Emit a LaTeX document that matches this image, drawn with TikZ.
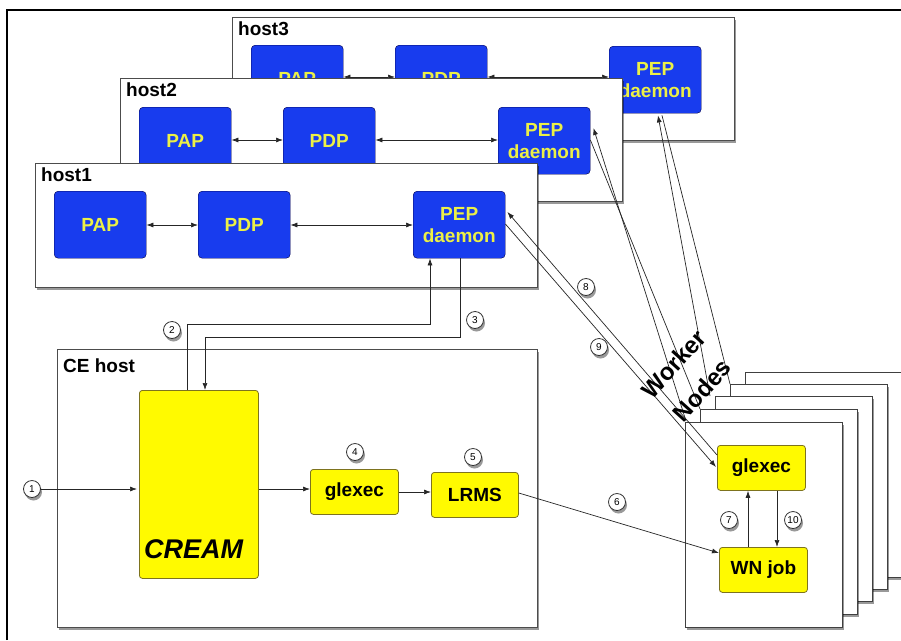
\documentclass[tikz,border=0pt]{standalone}
\usepackage{fontspec}
\setmainfont{Liberation Sans}
\usetikzlibrary{arrows.meta,shadows,calc}
\definecolor{pepblue}{RGB}{24,60,238}
\definecolor{pepyellow}{RGB}{236,240,70}
\definecolor{ybox}{RGB}{255,250,0}
\definecolor{yborder}{RGB}{125,115,30}
\begin{document}
\begin{tikzpicture}[x=1pt,y=-1pt,
  shad/.style={drop shadow={shadow xshift=1.5pt,shadow yshift=-3pt,fill=black,opacity=0.4}},
  hostbox/.style={draw=black!70,fill=white,line width=0.8pt,shad,anchor=north west,inner sep=0pt},
  hostlbl/.style={anchor=base west,inner sep=0pt,font=\bfseries\fontsize{19}{21}\selectfont},
  bluebox/.style={draw=blue!30!black,fill=pepblue,rounded corners=4pt,text=pepyellow,
    font=\bfseries\fontsize{19}{22}\selectfont,align=center,anchor=north west,
    minimum width=92pt,minimum height=67pt,inner sep=0pt},
  yelbox/.style={draw=yborder,fill=ybox,rounded corners=3pt,line width=0.8pt,
    font=\bfseries\fontsize{19}{21}\selectfont,align=center,anchor=north west,inner sep=0pt},
  wnbox/.style={draw=black!75,fill=white,line width=0.8pt,shad,anchor=north west,
    minimum width=157pt,minimum height=205pt,inner sep=0pt},
  numc/.style={circle,draw=black!80,fill=white,line width=0.8pt,minimum size=17pt,inner sep=0pt,
    font=\fontsize{10}{10}\selectfont,shad},
  wnlbl/.style={rotate=48,font=\bfseries\fontsize{24}{28}\selectfont,inner sep=0pt},
  arr/.style={draw=black!85,line width=0.7pt,-{Latex[length=7pt,width=5pt]}},
  darr/.style={draw=black!85,line width=0.7pt,{Latex[length=7pt,width=5pt]}-{Latex[length=7pt,width=5pt]}},
  ln/.style={draw=black!85,line width=0.7pt}
]
\useasboundingbox (0,0) rectangle (901,640);
\fill[white] (0,0) rectangle (901,640);
\draw[line width=2pt] (7,640) -- (7,10) -- (901,10);

% host3
\node[hostbox,minimum width=502pt,minimum height=123pt] (host3) at (232,17) {};
\node[hostlbl] (h3l) at (238,35) {host3};
\node[bluebox] (pap3) at (251,45) {PAP};
\node[bluebox] (pdp3) at (395,45) {PDP};
\node[bluebox] (pep3) at (609,46) {PEP\\daemon};
\draw[darr] ([yshift=-32pt]pap3.north east) -- ([yshift=-32pt]pdp3.north west);
\draw[darr] ([yshift=-32pt]pdp3.north east) -- ([yshift=-31pt]pep3.north west);

% host2
\node[hostbox,minimum width=502pt,minimum height=123pt] (host2) at (120,78) {};
\node[hostlbl] (h2l) at (126,96) {host2};
\node[bluebox] (pap2) at (139,107) {PAP};
\node[bluebox] (pdp2) at (283,107) {PDP};
\node[bluebox] (pep2) at (498,107) {PEP\\daemon};
\draw[darr] ([yshift=-33pt]pap2.north east) -- ([yshift=-33pt]pdp2.north west);
\draw[darr] ([yshift=-33pt]pdp2.north east) -- ([yshift=-33pt]pep2.north west);

% host1
\node[hostbox,minimum width=502pt,minimum height=124pt] (host1) at (35,163) {};
\node[hostlbl] (h1l) at (41,181) {host1};
\node[bluebox] (pap1) at (54,191) {PAP};
\node[bluebox] (pdp1) at (198,191) {PDP};
\node[bluebox] (pep1) at (413,191) {PEP\\daemon};
\draw[darr] ([yshift=-34pt]pap1.north east) -- ([yshift=-34pt]pdp1.north west);
\draw[darr] ([yshift=-34pt]pdp1.north east) -- ([yshift=-34pt]pep1.north west);

% CE host
\node[hostbox,minimum width=480pt,minimum height=278pt] (ce) at (57,349) {};
\node[hostlbl] (cel) at (63,372) {CE host};
\node[yelbox,minimum width=119pt,minimum height=188pt] (cream) at (139,390) {};
\node[anchor=base west,inner sep=0pt,font=\bfseries\itshape\fontsize{27}{30}\selectfont] (creaml) at (144,558) {CREAM};
\node[yelbox,minimum width=88pt,minimum height=45pt] (glexec) at (310,469) {glexec};
\node[yelbox,minimum width=87pt,minimum height=45pt] (lrms) at (431,472) {LRMS};

% lines from host2 / host3 PEP to worker nodes (behind the stack)
\coordinate (t2a) at (686,421);
\coordinate (t2b) at (700,409);
\coordinate (t3a) at (710,396);
\coordinate (t3b) at (730,384);
\draw[arr] (t2a) -- ([xshift=3pt,yshift=-21pt]pep2.north east);
\draw[ln] ([yshift=-33pt]pep2.north east) -- (t2b);
\draw[arr] (t3a) -- ([xshift=49pt,yshift=-2pt]pep3.south west);
\draw[ln] ([xshift=53pt,yshift=-2pt]pep3.south west) -- (t3b);

% worker node stack
\node[wnbox] (wn5) at (745,372) {};
\node[wnbox] (wn4) at (730,384) {};
\node[wnbox] (wn3) at (715,396) {};
\node[wnbox] (wn2) at (700,409) {};
\node[wnbox] (wn1) at (685,422) {};
\node[yelbox,minimum width=88pt,minimum height=45pt] (wng) at (717,445) {glexec};
\node[yelbox,minimum width=88pt,minimum height=45pt] (wnj) at (719,547) {WN job};

% connectors
\node[numc] (n1) at (32,489) {1};
\draw[arr,shorten >=2pt] (n1.east) -- (n1 -| cream.west);
\draw[arr] ([xshift=48pt]cream.north west) -- ++(0,-66) -| ([xshift=17pt]pep1.south west);
\draw[arr] ([xshift=47pt]pep1.south west) -- ++(0,79) -| ([xshift=66pt]cream.north west);
\node[numc] (n2) at (172,330) {2};
\node[numc] (n3) at (475,320) {3};
\draw[arr] ([yshift=-99pt]cream.north east) -- ([yshift=-20pt]glexec.north west);
\draw[arr] ([yshift=-23pt]glexec.north east) -- ([yshift=-20pt]lrms.north west);
\node[numc] (n4) at (355,452) {4};
\node[numc] (n5) at (473,457) {5};
\draw[arr] ([yshift=-21pt]lrms.north east) -- ([yshift=-6pt]wnj.north west);
\node[numc] (n6) at (617,502) {6};
\draw[arr] ([xshift=29pt]wnj.north west) -- ([xshift=31pt]wng.south west);
\draw[arr] ([xshift=60pt]wng.south west) -- ([xshift=58pt]wnj.north west);
\node[numc] (n7) at (729,520) {7};
\node[numc] (n10) at (793,520) {10};
\draw[arr] ([yshift=-10pt]wng.north west) -- ([xshift=2pt,yshift=-21pt]pep1.north east);
\draw[arr] ([yshift=-33pt]pep1.north east) -- ([xshift=-1pt,yshift=-22pt]wng.north west);
\node[numc] (n8) at (586,287) {8};
\node[numc] (n9) at (599,347) {9};

\node[wnlbl] (wnl1) at (674,364) {Worker};
\node[wnlbl] (wnl2) at (702,390) {Nodes};
\end{tikzpicture}
\end{document}
